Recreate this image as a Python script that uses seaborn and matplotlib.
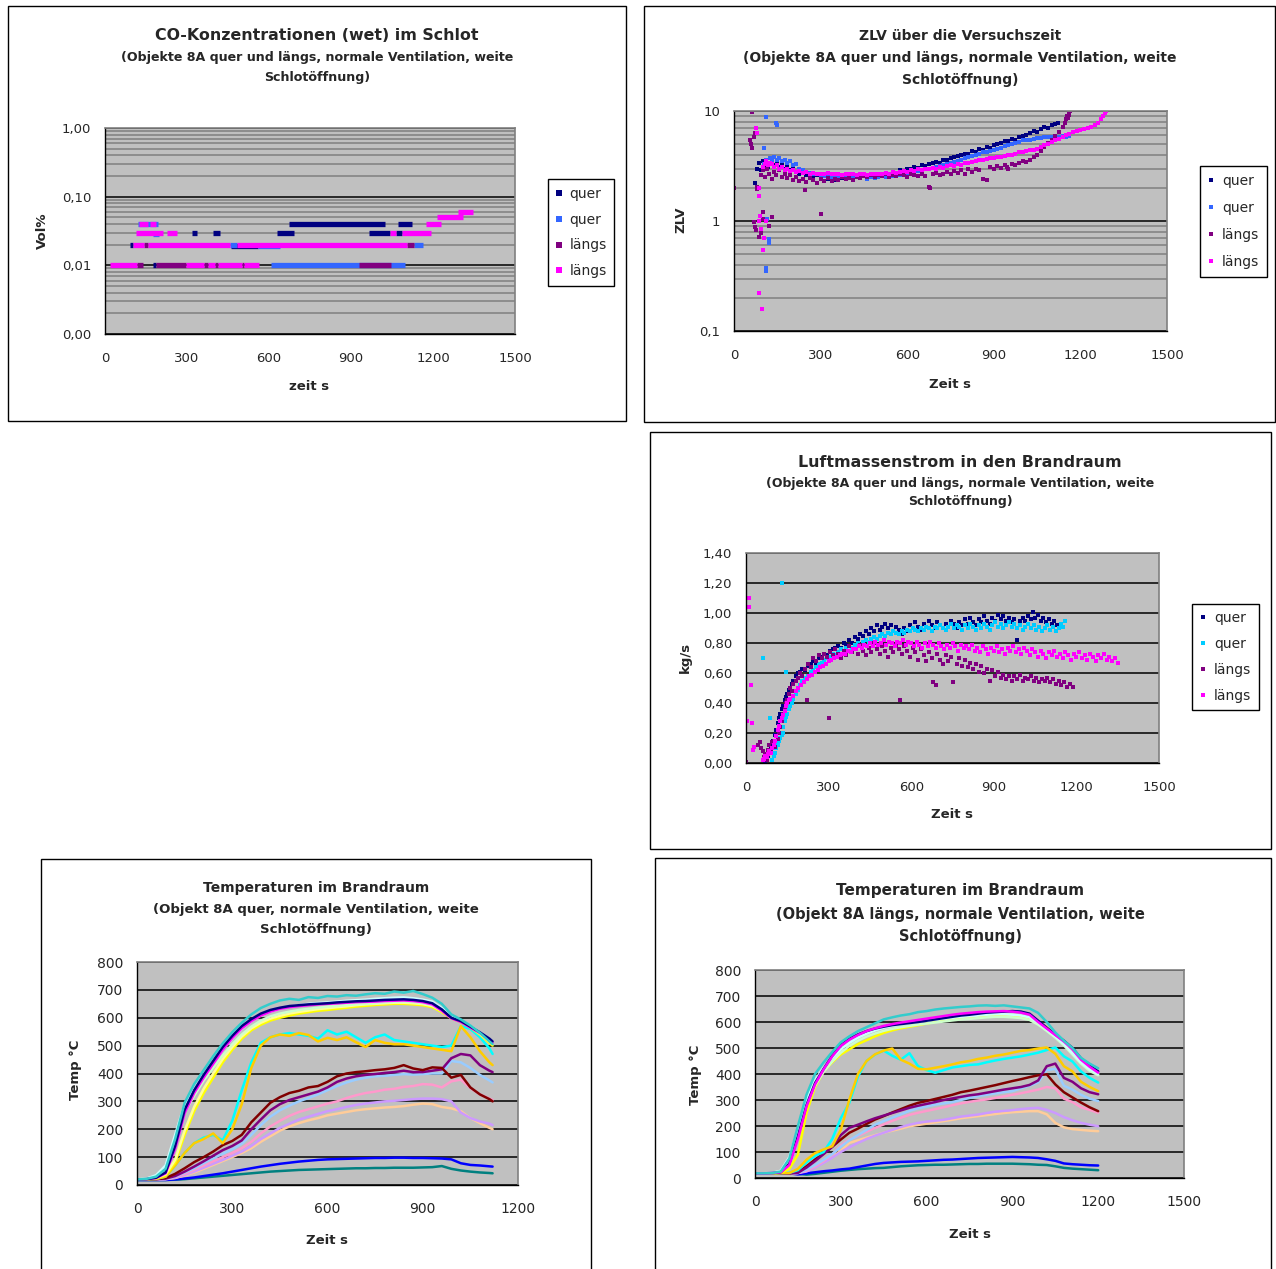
import numpy as np
import pandas as pd
import seaborn as sns
import matplotlib
matplotlib.use("Agg")
import matplotlib.pyplot as plt
from matplotlib.patches import Rectangle
from matplotlib.lines import Line2D
from matplotlib.ticker import LogLocator, NullFormatter

# ---------------------------------------------------------------- colours
NAVY = "#000080"; BLUE2 = "#3366FF"; PURPLE = "#800080"; MAGENTA = "#FF00FF"
CYAN = "#00FFFF"; SKY = "#00CCFF"; YELLOW = "#FFFF00"; DARKRED = "#800000"
TEAL = "#008080"; BLUE = "#0000FF"; LTURQ = "#CCFFFF"; LGREEN = "#CCFFCC"
LYELLOW = "#FFFF99"; PALEBLUE = "#99CCFF"; ROSE = "#FF99CC"; LAVENDER = "#CC99FF"
TAN = "#FFCC99"; GOLD = "#FFCC00"; TURQ = "#33CCCC"

SERIES_LABELS = ["quer", "quer", "längs", "längs"]

# ---------------------------------------------------------------- CO (Vol%), step segments: (start s, end s, value)
CO_QUER1 = [(92, 101, 0.02), (177, 187, 0.01), (461, 559, 0.019), (320, 338, 0.03),
            (395, 422, 0.03), (631, 690, 0.03), (965, 1041, 0.03), (1064, 1088, 0.03),
            (672, 1026, 0.04), (1073, 1122, 0.04)]
CO_QUER2 = [(607, 1096, 0.01), (458, 483, 0.02), (559, 642, 0.019), (1131, 1164, 0.02),
            (177, 196, 0.029), (122, 194, 0.04)]
CO_LAENGS1 = [(116, 138, 0.01), (186, 297, 0.01), (363, 375, 0.01), (403, 412, 0.01),
              (501, 510, 0.01), (929, 1045, 0.01), (141, 159, 0.02), (1104, 1131, 0.02)]
CO_LAENGS2 = [(18, 116, 0.01), (297, 363, 0.01), (375, 403, 0.01), (412, 501, 0.01),
              (510, 562, 0.01), (101, 141, 0.02), (159, 458, 0.02), (483, 1104, 0.02),
              (112, 214, 0.03), (226, 263, 0.03), (1041, 1064, 0.03), (1088, 1191, 0.03),
              (126, 158, 0.04), (166, 186, 0.04), (1173, 1231, 0.04), (1216, 1310, 0.05),
              (1292, 1348, 0.06)]

# ---------------------------------------------------------------- ZLV over time (s, ZLV)
ZLV_QUER1 = [(72, 2.2), (80, 3.0), (88, 3.4), (95, 2.9), (100, 3.5), (106, 3.2), (112, 3.6), (118, 3.1),
             (125, 3.4), (132, 3.7), (140, 3.2), (148, 3.4), (156, 3.1), (165, 3.3), (175, 3.0), (185, 3.2),
             (195, 2.9), (205, 3.0), (215, 2.8), (225, 2.7), (238, 2.85), (250, 2.6), (262, 2.7), (275, 2.5),
             (288, 2.6), (300, 2.45), (312, 2.55), (325, 2.4), (338, 2.5), (350, 2.35), (362, 2.5), (375, 2.45),
             (388, 2.55), (400, 2.5), (412, 2.45), (425, 2.55), (438, 2.5), (450, 2.6), (462, 2.5), (475, 2.6),
             (488, 2.55), (500, 2.65), (512, 2.6), (525, 2.7), (538, 2.65), (550, 2.8), (562, 2.75), (575, 2.9),
             (588, 2.85), (600, 3.0), (612, 2.95), (625, 3.1), (638, 3.05), (650, 3.2), (662, 3.15), (675, 3.3),
             (688, 3.35), (700, 3.45), (712, 3.4), (725, 3.6), (738, 3.55), (750, 3.75), (762, 3.8), (775, 3.9),
             (788, 4.0), (800, 4.1), (812, 4.05), (825, 4.3), (838, 4.25), (850, 4.5), (862, 4.45), (875, 4.7),
             (888, 4.65), (900, 4.9), (912, 5.0), (925, 5.1), (938, 5.3), (950, 5.35), (962, 5.6), (975, 5.5),
             (988, 5.8), (1000, 5.9), (1012, 6.1), (1025, 6.3), (1038, 6.6), (1050, 6.5), (1062, 6.9),
             (1075, 7.1), (1088, 7.0), (1100, 7.4), (1112, 7.6), (1124, 7.7)]
ZLV_QUER2 = [(104, 4.6), (110, 0.37), (112, 0.35), (112, 8.9), (115, 1.05), (120, 0.68), (122, 0.63),
             (145, 7.7), (150, 7.4), (105, 3.3), (110, 3.6), (118, 3.4), (125, 3.7), (132, 3.5), (140, 3.8),
             (148, 3.6), (156, 3.7), (165, 3.5), (175, 3.6), (185, 3.4), (195, 3.5), (205, 3.2), (215, 3.3),
             (225, 3.0), (238, 2.9), (250, 2.8), (262, 2.75), (275, 2.65), (288, 2.7), (300, 2.6), (312, 2.55),
             (325, 2.6), (338, 2.5), (350, 2.55), (362, 2.5), (375, 2.6), (388, 2.5), (400, 2.55), (412, 2.45),
             (425, 2.5), (438, 2.45), (450, 2.55), (462, 2.4), (475, 2.5), (488, 2.45), (500, 2.5), (512, 2.55),
             (525, 2.5), (538, 2.6), (550, 2.55), (562, 2.65), (575, 2.6), (588, 2.7), (600, 2.75), (612, 2.7),
             (625, 2.8), (638, 2.85), (650, 2.9), (662, 2.95), (675, 3.0), (688, 3.05), (700, 3.1), (712, 3.15),
             (725, 3.2), (738, 3.3), (750, 3.35), (762, 3.45), (775, 3.5), (788, 3.6), (800, 3.7), (812, 3.8),
             (825, 3.9), (838, 4.0), (850, 4.05), (862, 4.2), (875, 4.25), (888, 4.35), (900, 4.45), (912, 4.55),
             (925, 4.65), (938, 4.8), (950, 4.9), (962, 5.0), (975, 5.1), (988, 5.2), (1000, 5.4), (1012, 5.45),
             (1025, 5.5), (1038, 5.6), (1050, 5.65), (1062, 5.7), (1075, 5.75), (1088, 5.8), (1100, 5.8),
             (1112, 5.85), (1125, 5.8), (1138, 5.9), (1150, 5.85), (1162, 5.95)]
ZLV_LAENGS1 = [(0, 2.0), (55, 5.5), (58, 5.0), (61, 9.7), (64, 4.6), (68, 5.8), (72, 6.3), (70, 0.98),
               (72, 0.88), (75, 0.82), (78, 2.05), (80, 1.95), (85, 0.72), (92, 0.78), (100, 1.2), (102, 1.05),
               (122, 0.9), (130, 1.08), (247, 1.9), (301, 1.16), (95, 2.6), (100, 2.9), (108, 2.5), (115, 3.0),
               (122, 2.7), (130, 2.4), (138, 2.8), (146, 2.6), (155, 2.9), (165, 2.5), (175, 2.7), (185, 2.45),
               (195, 2.6), (205, 2.35), (215, 2.5), (225, 2.3), (238, 2.4), (250, 2.25), (262, 2.45), (275, 2.35),
               (288, 2.2), (300, 2.4), (312, 2.3), (325, 2.45), (338, 2.3), (350, 2.4), (362, 2.35), (375, 2.5),
               (388, 2.4), (400, 2.45), (412, 2.35), (425, 2.5), (438, 2.45), (450, 2.55), (462, 2.5), (475, 2.6),
               (488, 2.5), (500, 2.6), (512, 2.55), (525, 2.65), (538, 2.5), (550, 2.6), (562, 2.55), (575, 2.7),
               (588, 2.6), (600, 2.5), (612, 2.65), (625, 2.6), (638, 2.55), (650, 2.7), (662, 2.55), (675, 2.05),
               (680, 2.0), (688, 2.7), (700, 2.75), (712, 2.6), (725, 2.7), (738, 2.8), (750, 2.65), (762, 2.85),
               (775, 2.75), (788, 2.9), (800, 2.7), (812, 2.95), (825, 2.8), (838, 3.0), (850, 2.9), (862, 2.4),
               (875, 2.35), (888, 3.1), (900, 3.0), (912, 3.15), (925, 3.05), (938, 3.2), (944, 3.1), (950, 3.0),
               (962, 3.3), (975, 3.2), (988, 3.4), (1000, 3.5), (1012, 3.45), (1025, 3.6), (1038, 3.8),
               (1050, 4.0), (1062, 4.3), (1075, 4.7), (1088, 5.1), (1100, 5.4), (1112, 5.9), (1125, 6.5),
               (1138, 7.2), (1145, 7.8), (1150, 8.4), (1155, 9.0), (1160, 9.5), (1165, 9.9), (1162, 9.2),
               (1158, 8.7)]
ZLV_LAENGS2 = [(75, 7.0), (78, 6.3), (85, 2.0), (86, 1.7), (88, 1.0), (90, 1.1), (95, 0.85), (100, 0.55),
               (87, 0.22), (96, 0.16), (105, 0.7), (110, 1.0), (100, 3.1), (106, 3.3), (112, 3.5), (118, 3.2),
               (125, 3.4), (132, 3.3), (140, 3.1), (148, 3.2), (156, 3.0), (165, 3.1), (175, 2.9), (185, 3.0),
               (195, 2.85), (205, 2.9), (215, 2.8), (225, 2.85), (238, 2.75), (250, 2.8), (262, 2.7), (275, 2.75),
               (288, 2.65), (300, 2.7), (312, 2.65), (325, 2.75), (338, 2.7), (350, 2.65), (362, 2.7), (375, 2.6),
               (388, 2.7), (400, 2.65), (412, 2.7), (425, 2.6), (438, 2.65), (450, 2.7), (462, 2.6), (475, 2.65),
               (488, 2.7), (500, 2.65), (512, 2.7), (525, 2.75), (538, 2.7), (550, 2.8), (562, 2.75), (575, 2.8),
               (588, 2.85), (600, 2.8), (612, 2.9), (625, 2.85), (638, 2.95), (650, 2.9), (662, 3.0), (675, 2.95),
               (688, 3.05), (700, 3.0), (712, 3.1), (725, 3.05), (738, 3.15), (750, 3.2), (762, 3.15), (775, 3.3),
               (788, 3.25), (800, 3.35), (812, 3.4), (825, 3.45), (838, 3.5), (850, 3.55), (862, 3.6), (875, 3.65),
               (888, 3.7), (900, 3.75), (912, 3.8), (925, 3.85), (938, 3.9), (950, 3.95), (962, 4.0), (975, 4.1),
               (988, 4.2), (1000, 4.25), (1012, 4.3), (1025, 4.4), (1038, 4.45), (1050, 4.55), (1062, 4.7),
               (1075, 4.9), (1088, 5.0), (1100, 5.2), (1112, 5.4), (1125, 5.6), (1138, 5.8), (1150, 6.0),
               (1162, 6.2), (1175, 6.4), (1188, 6.6), (1200, 6.7), (1212, 6.9), (1225, 7.0), (1238, 7.2),
               (1250, 7.4), (1262, 7.8), (1272, 8.4), (1280, 9.0), (1286, 9.5), (1290, 9.9)]

# ---------------------------------------------------------------- air mass flow (s, kg/s)
LM_QUER1 = [(69, 0.01), (75, 0.03), (80, 0.05), (85, 0.08), (90, 0.10), (95, 0.12), (99, 0.15), (105, 0.19),
            (110, 0.22), (115, 0.27), (120, 0.30), (125, 0.33), (130, 0.36), (135, 0.38), (140, 0.42), (145, 0.44),
            (150, 0.46), (155, 0.49), (160, 0.50), (166, 0.53), (172, 0.55), (180, 0.58), (188, 0.60), (196, 0.61),
            (205, 0.63), (215, 0.62), (225, 0.65), (235, 0.66), (245, 0.68), (255, 0.67), (265, 0.70), (275, 0.71),
            (285, 0.73), (295, 0.72), (305, 0.75), (315, 0.76), (325, 0.77), (335, 0.78), (345, 0.77), (355, 0.80),
            (365, 0.79), (375, 0.82), (385, 0.80), (395, 0.84), (405, 0.83), (415, 0.86), (425, 0.85), (435, 0.88),
            (445, 0.86), (455, 0.90), (465, 0.88), (475, 0.92), (485, 0.89), (495, 0.91), (505, 0.93), (515, 0.90),
            (525, 0.92), (535, 0.88), (545, 0.91), (555, 0.89), (565, 0.86), (575, 0.90), (585, 0.88), (595, 0.92),
            (605, 0.90), (615, 0.94), (625, 0.91), (635, 0.89), (645, 0.93), (655, 0.91), (665, 0.95), (675, 0.92),
            (685, 0.90), (695, 0.94), (705, 0.92), (715, 0.90), (725, 0.93), (735, 0.91), (745, 0.95), (755, 0.93),
            (765, 0.90), (775, 0.94), (785, 0.92), (795, 0.96), (805, 0.93), (815, 0.97), (825, 0.94), (835, 0.92),
            (845, 0.96), (855, 0.94), (865, 0.98), (875, 0.95), (885, 0.93), (895, 0.97), (905, 0.95), (915, 0.99),
            (925, 0.96), (935, 0.98), (945, 0.95), (955, 0.97), (965, 0.94), (975, 0.96), (985, 0.82), (995, 0.95),
            (1005, 0.97), (1015, 0.95), (1025, 0.98), (1035, 0.96), (1043, 1.01), (1050, 0.97), (1060, 0.99),
            (1070, 0.95), (1080, 0.97), (1090, 0.94), (1100, 0.96), (1110, 0.93), (1120, 0.95), (1130, 0.92)]
LM_QUER2 = [(63, 0.70), (132, 1.20), (145, 0.61), (88, 0.30), (133, 0.20), (95, 0.02), (100, 0.05), (105, 0.07),
            (110, 0.10), (115, 0.12), (120, 0.15), (125, 0.17), (130, 0.19), (135, 0.24), (140, 0.28), (145, 0.31),
            (150, 0.33), (155, 0.36), (160, 0.38), (166, 0.40), (172, 0.43), (180, 0.46), (188, 0.49), (196, 0.52),
            (205, 0.55), (215, 0.57), (225, 0.58), (235, 0.61), (245, 0.62), (255, 0.64), (265, 0.66), (275, 0.67),
            (285, 0.69), (295, 0.70), (305, 0.71), (315, 0.73), (325, 0.72), (335, 0.74), (345, 0.76), (355, 0.75),
            (365, 0.77), (375, 0.78), (385, 0.77), (395, 0.79), (405, 0.80), (415, 0.79), (425, 0.81), (435, 0.82),
            (445, 0.81), (455, 0.83), (465, 0.84), (475, 0.83), (485, 0.85), (495, 0.86), (505, 0.85), (515, 0.87),
            (525, 0.86), (535, 0.88), (545, 0.87), (555, 0.86), (565, 0.88), (575, 0.87), (585, 0.89), (595, 0.88),
            (605, 0.90), (615, 0.89), (625, 0.88), (635, 0.90), (645, 0.89), (655, 0.91), (665, 0.90), (675, 0.88),
            (685, 0.91), (695, 0.90), (705, 0.92), (715, 0.90), (725, 0.89), (735, 0.91), (745, 0.93), (755, 0.90),
            (765, 0.92), (775, 0.91), (785, 0.89), (795, 0.92), (805, 0.90), (815, 0.93), (825, 0.91), (835, 0.89),
            (845, 0.92), (855, 0.90), (865, 0.93), (875, 0.91), (885, 0.89), (895, 0.92), (905, 0.94), (915, 0.91),
            (925, 0.93), (935, 0.90), (945, 0.92), (955, 0.94), (965, 0.91), (975, 0.93), (985, 0.90), (995, 0.92),
            (1005, 0.89), (1015, 0.91), (1025, 0.93), (1035, 0.90), (1045, 0.92), (1055, 0.89), (1065, 0.91),
            (1075, 0.88), (1085, 0.90), (1095, 0.92), (1105, 0.89), (1115, 0.91), (1125, 0.88), (1135, 0.90),
            (1145, 0.93), (1152, 0.91), (1158, 0.95)]
LM_LAENGS1 = [(0, 0.01), (45, 0.12), (50, 0.14), (55, 0.10), (60, 0.08), (65, 0.04), (70, 0.06), (75, 0.02),
              (80, 0.09), (85, 0.12), (90, 0.08), (95, 0.14), (100, 0.15), (105, 0.11), (110, 0.18), (115, 0.16),
              (120, 0.20), (125, 0.24), (130, 0.28), (135, 0.33), (140, 0.36), (145, 0.40), (150, 0.42), (155, 0.46),
              (160, 0.50), (166, 0.48), (172, 0.53), (180, 0.55), (188, 0.57), (196, 0.60), (205, 0.58), (215, 0.63),
              (220, 0.42), (225, 0.66), (235, 0.64), (245, 0.70), (255, 0.68), (265, 0.72), (275, 0.70), (285, 0.73),
              (295, 0.71), (302, 0.30), (305, 0.74), (315, 0.72), (325, 0.76), (335, 0.73), (345, 0.70), (355, 0.75),
              (365, 0.72), (375, 0.78), (385, 0.74), (395, 0.76), (405, 0.73), (415, 0.79), (425, 0.75), (435, 0.72),
              (445, 0.77), (455, 0.74), (465, 0.80), (475, 0.76), (485, 0.73), (495, 0.78), (505, 0.75), (515, 0.71),
              (525, 0.77), (535, 0.74), (545, 0.79), (555, 0.76), (560, 0.42), (565, 0.73), (575, 0.78), (585, 0.75),
              (595, 0.71), (605, 0.77), (615, 0.74), (625, 0.69), (635, 0.76), (645, 0.72), (655, 0.68), (665, 0.74),
              (675, 0.70), (680, 0.54), (690, 0.52), (695, 0.73), (705, 0.69), (715, 0.66), (725, 0.72), (735, 0.68),
              (745, 0.71), (753, 0.54), (765, 0.66), (775, 0.70), (785, 0.65), (795, 0.69), (805, 0.64), (815, 0.67),
              (825, 0.63), (835, 0.66), (845, 0.61), (855, 0.65), (865, 0.60), (875, 0.63), (886, 0.55), (895, 0.62),
              (905, 0.58), (915, 0.61), (925, 0.57), (935, 0.59), (945, 0.56), (955, 0.58), (965, 0.55), (975, 0.58),
              (985, 0.56), (995, 0.59), (1005, 0.55), (1015, 0.57), (1025, 0.56), (1035, 0.58), (1045, 0.55),
              (1055, 0.57), (1065, 0.54), (1075, 0.56), (1085, 0.55), (1095, 0.57), (1105, 0.54), (1115, 0.56),
              (1125, 0.53), (1135, 0.55), (1145, 0.52), (1155, 0.54), (1165, 0.51), (1175, 0.53), (1188, 0.51)]
LM_LAENGS2 = [(5, 0.28), (11, 1.10), (11, 1.04), (17, 0.52), (20, 0.27), (27, 0.09), (28, 0.11), (60, 0.02),
              (65, 0.03), (70, 0.05), (75, 0.04), (80, 0.06), (85, 0.08), (90, 0.07), (95, 0.10), (100, 0.12),
              (105, 0.15), (110, 0.18), (115, 0.22), (120, 0.25), (125, 0.28), (130, 0.30), (135, 0.32), (140, 0.35),
              (145, 0.38), (150, 0.40), (155, 0.42), (160, 0.43), (170, 0.45), (180, 0.48), (190, 0.50), (200, 0.52),
              (210, 0.54), (220, 0.56), (230, 0.58), (240, 0.59), (250, 0.61), (260, 0.62), (270, 0.64), (280, 0.65),
              (290, 0.66), (300, 0.68), (310, 0.69), (320, 0.70), (330, 0.71), (340, 0.72), (350, 0.73), (360, 0.73),
              (370, 0.75), (380, 0.74), (390, 0.76), (400, 0.76), (410, 0.78), (420, 0.77), (430, 0.79), (440, 0.78),
              (450, 0.80), (460, 0.78), (470, 0.81), (480, 0.79), (490, 0.80), (500, 0.82), (510, 0.79), (520, 0.81),
              (530, 0.80), (540, 0.78), (550, 0.81), (560, 0.80), (570, 0.82), (580, 0.79), (590, 0.81), (600, 0.80),
              (610, 0.78), (620, 0.81), (630, 0.79), (640, 0.77), (650, 0.80), (660, 0.78), (670, 0.81), (680, 0.79),
              (690, 0.77), (700, 0.80), (710, 0.78), (720, 0.76), (730, 0.79), (740, 0.77), (750, 0.80), (760, 0.78),
              (770, 0.75), (780, 0.79), (790, 0.77), (800, 0.78), (810, 0.76), (820, 0.79), (830, 0.75), (840, 0.77),
              (850, 0.74), (860, 0.78), (870, 0.76), (880, 0.73), (890, 0.77), (900, 0.75), (910, 0.78), (920, 0.74),
              (930, 0.76), (940, 0.73), (950, 0.77), (960, 0.75), (970, 0.78), (980, 0.74), (990, 0.76), (1000, 0.73),
              (1010, 0.77), (1020, 0.75), (1030, 0.72), (1040, 0.76), (1050, 0.74), (1060, 0.71), (1070, 0.75),
              (1080, 0.73), (1090, 0.70), (1100, 0.74), (1110, 0.72), (1120, 0.75), (1130, 0.71), (1140, 0.73),
              (1150, 0.70), (1160, 0.74), (1170, 0.72), (1180, 0.69), (1190, 0.73), (1200, 0.71), (1210, 0.74),
              (1220, 0.70), (1230, 0.72), (1240, 0.69), (1250, 0.73), (1260, 0.71), (1270, 0.68), (1280, 0.72),
              (1290, 0.70), (1300, 0.73), (1310, 0.69), (1320, 0.71), (1330, 0.68), (1340, 0.70), (1350, 0.67)]

# ---------------------------------------------------------------- temperatures, object 8A quer (°C every 30 s, last at 1120 s)
T_QUER_TIME = list(range(0, 1111, 30)) + [1120]
TQ_TURQ = [20, 22, 30, 58, 165, 295, 362, 412, 462, 508, 548, 582, 612, 635, 650, 662, 668, 664, 674, 671,
           678, 676, 681, 679, 684, 688, 686, 694, 690, 696, 685, 672, 650, 612, 594, 572, 546, 515, 505]
TQ_NAVY = [20, 21, 26, 45, 140, 270, 340, 395, 445, 495, 535, 570, 595, 615, 628, 636, 642, 645, 648, 650,
           652, 655, 657, 659, 660, 662, 664, 665, 666, 664, 660, 652, 630, 600, 588, 568, 548, 525, 515]
TQ_MAGENTA = [20, 21, 25, 42, 130, 258, 330, 385, 435, 485, 527, 562, 588, 608, 622, 632, 638, 642, 645, 648,
              650, 652, 654, 656, 657, 658, 660, 661, 662, 660, 656, 648, 625, 598, 585, 565, 545, 520, 510]
TQ_LTURQ = [20, 23, 35, 70, 180, 290, 345, 395, 440, 485, 525, 560, 588, 608, 622, 632, 640, 645, 650, 653,
            655, 658, 661, 663, 665, 668, 670, 672, 673, 670, 665, 658, 635, 605, 590, 570, 548, 522, 512]
TQ_LGREEN = [20, 22, 30, 55, 150, 260, 320, 375, 420, 465, 505, 540, 568, 590, 605, 615, 622, 628, 632, 636,
             640, 642, 645, 648, 650, 652, 655, 657, 658, 656, 652, 645, 625, 600, 588, 568, 548, 522, 512]
TQ_LYELLOW = [20, 21, 25, 38, 90, 195, 280, 345, 400, 452, 495, 533, 562, 582, 597, 607, 615, 621, 626, 631,
              634, 638, 641, 645, 648, 650, 652, 654, 654, 652, 649, 642, 625, 602, 588, 568, 543, 515, 505]
TQ_YELLOW = [20, 21, 24, 35, 80, 180, 265, 330, 385, 440, 485, 525, 555, 575, 590, 600, 608, 615, 620, 625,
             628, 632, 636, 640, 643, 646, 648, 650, 650, 648, 645, 638, 620, 598, 585, 565, 540, 510, 500]
TQ_CYAN = [20, 21, 22, 30, 70, 115, 150, 170, 180, 160, 230, 340, 440, 510, 530, 540, 545, 540, 535, 525,
           555, 540, 550, 530, 510, 530, 540, 520, 515, 510, 505, 500, 495, 500, 570, 560, 530, 490, 470]
TQ_GOLD = [20, 21, 22, 30, 70, 115, 150, 165, 185, 150, 200, 290, 420, 500, 530, 540, 535, 545, 538, 515,
           528, 520, 530, 512, 495, 520, 510, 505, 505, 500, 495, 490, 485, 480, 570, 530, 480, 440, 430]
TQ_DARKRED = [20, 20, 21, 25, 40, 60, 82, 100, 120, 143, 158, 180, 225, 260, 295, 315, 330, 338, 350, 355,
              370, 390, 400, 405, 408, 412, 415, 420, 430, 418, 412, 422, 420, 385, 395, 350, 325, 308, 300]
TQ_PURPLE = [20, 20, 21, 23, 32, 48, 66, 85, 105, 125, 140, 160, 200, 235, 268, 290, 305, 315, 325, 335,
             350, 370, 382, 390, 395, 398, 402, 405, 410, 405, 405, 410, 415, 455, 470, 465, 430, 410, 405]
TQ_PALEBLUE = [20, 20, 21, 22, 30, 45, 60, 78, 95, 112, 128, 148, 180, 215, 245, 268, 285, 300, 312, 325,
               340, 355, 368, 378, 385, 390, 392, 395, 398, 396, 398, 400, 400, 445, 440, 420, 395, 375, 368]
TQ_ROSE = [20, 20, 21, 22, 28, 40, 55, 70, 85, 100, 115, 132, 155, 185, 210, 230, 248, 262, 272, 282,
           292, 300, 312, 322, 330, 335, 342, 345, 352, 355, 362, 360, 350, 372, 378, 348, 325, 310, 305]
TQ_LAVENDER = [20, 20, 20, 21, 26, 36, 48, 62, 76, 90, 105, 120, 140, 165, 185, 205, 220, 235, 245, 255,
               265, 272, 280, 287, 292, 296, 300, 302, 305, 308, 310, 310, 308, 300, 260, 240, 228, 220, 215]
TQ_TAN = [20, 20, 20, 21, 25, 34, 45, 58, 72, 86, 100, 115, 132, 155, 175, 195, 210, 222, 232, 240,
          250, 256, 262, 268, 272, 275, 278, 280, 283, 288, 292, 290, 280, 275, 265, 240, 222, 205, 200]
TQ_BLUE = [18, 18, 18, 18, 20, 23, 27, 32, 37, 42, 48, 54, 60, 66, 71, 76, 80, 84, 87, 90,
           92, 93, 94, 95, 96, 97, 97, 98, 98, 97, 97, 96, 95, 92, 78, 72, 70, 67, 66]
TQ_TEAL = [18, 18, 18, 18, 19, 21, 24, 27, 30, 33, 36, 39, 42, 45, 48, 50, 52, 54, 55, 56,
           57, 58, 59, 60, 60, 61, 61, 62, 62, 62, 63, 64, 68, 58, 52, 48, 45, 43, 42]

# ---------------------------------------------------------------- temperatures, object 8A längs (°C every 30 s)
T_LAENGS_TIME = list(range(0, 1201, 30))
TL_TURQ = [18, 18, 19, 25, 75, 200, 320, 400, 445, 485, 522, 545, 565, 580, 595, 610, 618, 625, 630, 638,
           642, 648, 652, 655, 658, 660, 663, 664, 662, 664, 660, 656, 652, 635, 600, 560, 528, 500, 462, 440, 422]
TL_NAVY = [18, 18, 19, 22, 55, 160, 280, 365, 420, 470, 510, 535, 552, 565, 575, 582, 588, 592, 596, 600,
           605, 610, 615, 620, 625, 628, 632, 636, 638, 640, 642, 640, 632, 605, 578, 552, 528, 500, 460, 432, 410]
TL_MAGENTA = [18, 18, 19, 22, 50, 150, 275, 360, 418, 468, 508, 532, 550, 565, 576, 585, 592, 598, 603, 608,
              613, 618, 623, 628, 632, 635, 638, 640, 641, 642, 640, 636, 628, 600, 575, 550, 525, 495, 455, 428, 405]
TL_LTURQ = [18, 18, 20, 28, 80, 190, 300, 375, 425, 462, 495, 520, 540, 555, 568, 578, 585, 590, 595, 600,
            604, 608, 612, 616, 620, 622, 625, 628, 630, 630, 628, 625, 618, 598, 572, 545, 515, 480, 445, 418, 400]
TL_LGREEN = [18, 18, 19, 24, 60, 165, 280, 355, 408, 448, 482, 508, 528, 544, 556, 566, 574, 580, 585, 590,
             594, 598, 602, 606, 610, 612, 615, 618, 620, 620, 618, 615, 608, 590, 566, 540, 510, 475, 440, 412, 395]
TL_YELLOW = [18, 18, 18, 20, 35, 90, 250, 350, 410, 445, 475, 495, 515, 530, 545, 558, 568, 576, 582, 588,
             594, 600, 605, 610, 615, 620, 622, 624, 625, 624, 622, 618, 612, 598, 580, 548, 515, 478, 442, 420, 405]
TL_GOLD = [18, 18, 18, 19, 19, 35, 70, 96, 110, 122, 185, 302, 400, 450, 476, 490, 498, 455, 440, 420,
           418, 424, 430, 437, 445, 450, 458, 463, 470, 475, 482, 489, 492, 498, 502, 478, 430, 410, 370, 350, 334]
TL_CYAN = [18, 18, 18, 19, 20, 30, 60, 85, 100, 150, 230, 290, 390, 450, 475, 490, 470, 455, 480, 430,
           415, 405, 415, 425, 430, 435, 437, 445, 452, 458, 463, 468, 475, 482, 492, 502, 468, 448, 410, 385, 367]
TL_DARKRED = [18, 18, 18, 18, 18, 22, 45, 71, 95, 120, 148, 174, 190, 208, 225, 238, 252, 265, 278, 289,
              296, 304, 312, 320, 330, 336, 343, 350, 357, 365, 373, 380, 388, 395, 399, 360, 330, 310, 290, 272, 257]
TL_PURPLE = [18, 18, 18, 18, 18, 20, 40, 65, 92, 120, 165, 193, 205, 218, 230, 240, 250, 260, 270, 278,
             285, 292, 300, 306, 312, 318, 322, 328, 334, 340, 345, 350, 358, 375, 430, 440, 385, 370, 345, 330, 322]
TL_PALEBLUE = [18, 18, 18, 18, 18, 20, 32, 50, 70, 92, 120, 145, 165, 185, 205, 219, 232, 245, 258, 268,
               275, 282, 287, 292, 300, 308, 315, 320, 325, 330, 334, 345, 355, 368, 415, 420, 355, 340, 320, 305, 296]
TL_ROSE = [18, 18, 18, 18, 18, 19, 28, 45, 65, 90, 125, 148, 162, 178, 193, 206, 220, 232, 243, 251,
           258, 265, 272, 280, 287, 293, 298, 302, 308, 314, 320, 326, 333, 340, 350, 345, 305, 292, 272, 262, 251]
TL_LAVENDER = [18, 18, 18, 18, 18, 19, 25, 40, 58, 78, 100, 118, 135, 150, 163, 174, 185, 196, 205, 212,
               217, 220, 224, 230, 236, 240, 244, 250, 255, 258, 261, 265, 268, 270, 262, 250, 234, 222, 212, 205, 199]
TL_TAN = [18, 18, 18, 18, 18, 20, 28, 42, 60, 80, 105, 135, 145, 155, 165, 174, 182, 190, 199, 204,
          209, 214, 219, 224, 230, 234, 238, 242, 246, 250, 253, 255, 257, 257, 245, 212, 195, 188, 185, 182, 180]
TL_BLUE = [18, 18, 18, 18, 18, 14, 18, 22, 26, 29, 33, 36, 42, 48, 54, 58, 60, 62, 63, 64,
           66, 68, 70, 71, 73, 75, 77, 78, 79, 80, 81, 80, 79, 77, 72, 66, 56, 53, 51, 49, 48]
TL_TEAL = [18, 18, 18, 18, 18, 16, 13, 16, 20, 24, 28, 31, 34, 36, 38, 39, 42, 45, 47, 49,
           50, 51, 51, 52, 53, 54, 54, 55, 55, 55, 55, 54, 53, 51, 50, 45, 39, 36, 34, 32, 30]

# ---------------------------------------------------------------- figure helpers
W, H = 1276, 1269
sns.set_style("white")
plt.rcParams["font.family"] = ["DejaVu Sans"]
fig = plt.figure(figsize=(W / 100, H / 100), dpi=100)
fig.patch.set_facecolor("white")


def frac_rect(x0, y0, x1, y1):
    return [x0 / W, 1 - y1 / H, (x1 - x0) / W, (y1 - y0) / H]


def chart_box(x0, y0, x1, y1):
    fig.add_artist(Rectangle((x0 / W, 1 - y1 / H), (x1 - x0) / W, (y1 - y0) / H,
                             transform=fig.transFigure, fill=False, edgecolor="black", lw=1.0))


def ftext(x, y, s, **kw):
    fig.text(x / W, 1 - y / H, s, ha=kw.pop("ha", "center"), va=kw.pop("va", "center"), **kw)


def style_axes(ax, labelsize=9.5, xpad=7):
    ax.set_facecolor("#C0C0C0")
    for side in ("left", "bottom"):
        ax.spines[side].set_color("black"); ax.spines[side].set_linewidth(1.0)
    for side in ("top", "right"):
        ax.spines[side].set_color("#808080"); ax.spines[side].set_linewidth(1.2)
    ax.tick_params(axis="both", which="major", direction="out", length=5, width=1,
                   color="black", labelsize=labelsize, pad=5)
    ax.tick_params(axis="x", which="major", pad=xpad)
    ax.set_axisbelow(True)
    ax.set_xlabel(""); ax.set_ylabel("")


def lin_grid(ax):
    ax.yaxis.grid(True, which="major", color="black", lw=1.1)
    ax.xaxis.grid(False)


def log_grid(ax):
    ax.yaxis.set_minor_locator(LogLocator(base=10, subs=np.arange(2, 10)))
    ax.yaxis.set_minor_formatter(NullFormatter())
    ax.tick_params(axis="y", which="minor", length=0)
    ax.yaxis.grid(True, which="major", color="black", lw=1.1)
    ax.yaxis.grid(True, which="minor", color="#808080", lw=1.1)
    ax.xaxis.grid(False)


def legend_at(ax, colors, cx, cy, msize, spacing):
    handles = [Line2D([], [], marker="s", ls="none", color=c, markersize=msize, markeredgewidth=0) for c in colors]
    leg = ax.legend(handles, SERIES_LABELS, loc="center", bbox_to_anchor=(cx / W, 1 - cy / H),
                    bbox_transform=fig.transFigure, frameon=True, fancybox=False, edgecolor="black",
                    framealpha=1, fontsize=10, handlelength=0.5, handletextpad=0.5,
                    labelspacing=spacing, borderpad=0.55, borderaxespad=0)
    leg.get_frame().set_linewidth(1.0)
    leg.get_frame().set_facecolor("white")


def scatter_pairs(ax, pairs, color, size=6):
    df = pd.DataFrame(pairs, columns=["t", "v"])
    sns.scatterplot(data=df, x="t", y="v", ax=ax, color=color, marker="s", s=size,
                    linewidth=0, legend=False)


def temp_lines(ax, times, series):
    for vals, col in series:
        df = pd.DataFrame({"t": times, "T": vals})
        sns.lineplot(data=df, x="t", y="T", ax=ax, color=col, lw=1.8, legend=False)


# ---------------------------------------------------------------- chart 1: CO
chart_box(8, 6, 626, 421)
ax1 = fig.add_axes(frac_rect(105, 128, 515, 334))
for segs, col in [(CO_QUER1, NAVY), (CO_QUER2, BLUE2), (CO_LAENGS1, PURPLE), (CO_LAENGS2, MAGENTA)]:
    starts, ends, vals = zip(*segs)
    ax1.hlines(vals, starts, ends, colors=col, lw=3.8, capstyle="butt", zorder=3)
ax1.set_yscale("log")
ax1.set_ylim(0.001, 1)
ax1.set_xlim(0, 1500)
ax1.set_yticks([0.001, 0.01, 0.1, 1])
ax1.set_yticklabels(["0,00", "0,01", "0,10", "1,00"])
ax1.set_xticks(range(0, 1501, 300))
style_axes(ax1, xpad=8)
log_grid(ax1)
legend_at(ax1, [NAVY, BLUE2, PURPLE, MAGENTA], 581, 232.5, 4, 0.85)
ftext(317, 36, "CO-Konzentrationen (wet) im Schlot", fontsize=11.4, fontweight="bold")
ftext(317, 57, "(Objekte 8A quer und längs, normale Ventilation, weite", fontsize=9.1, fontweight="bold")
ftext(317, 78, "Schlotöffnung)", fontsize=9.1, fontweight="bold")
ftext(42, 231, "Vol%", fontsize=9.5, fontweight="bold", rotation=90)
ftext(309, 387, "zeit s", fontsize=9.5, fontweight="bold")

# ---------------------------------------------------------------- chart 2: ZLV
chart_box(644, 6, 1275, 422)
ax2 = fig.add_axes(frac_rect(734, 111, 1167, 331))
for pairs, col in [(ZLV_QUER1, NAVY), (ZLV_QUER2, BLUE2), (ZLV_LAENGS1, PURPLE), (ZLV_LAENGS2, MAGENTA)]:
    scatter_pairs(ax2, pairs, col)
ax2.set_yscale("log")
ax2.set_ylim(0.1, 10)
ax2.set_xlim(0, 1500)
ax2.set_yticks([0.1, 1, 10])
ax2.set_yticklabels(["0,1", "1", "10"])
ax2.set_xticks(range(0, 1501, 300))
style_axes(ax2, xpad=8)
log_grid(ax2)
legend_at(ax2, [NAVY, BLUE2, PURPLE, MAGENTA], 1233.5, 221.5, 2.2, 0.95)
ftext(960, 36, "ZLV über die Versuchszeit", fontsize=10, fontweight="bold")
ftext(960, 58, "(Objekte 8A quer und längs, normale Ventilation, weite", fontsize=10, fontweight="bold")
ftext(960, 80, "Schlotöffnung)", fontsize=10, fontweight="bold")
ftext(681, 220, "ZLV", fontsize=9.5, fontweight="bold", rotation=90)
ftext(950, 384, "Zeit s", fontsize=9.5, fontweight="bold")

# ---------------------------------------------------------------- chart 3: air mass flow
chart_box(650, 432, 1271, 849)
ax3 = fig.add_axes(frac_rect(746, 553, 1159, 763))
for pairs, col in [(LM_QUER1, NAVY), (LM_QUER2, SKY), (LM_LAENGS1, PURPLE), (LM_LAENGS2, MAGENTA)]:
    scatter_pairs(ax3, pairs, col)
ax3.set_ylim(0, 1.4)
ax3.set_xlim(0, 1500)
ax3.set_yticks(np.arange(0, 1.41, 0.2))
ax3.set_yticklabels(["0,00", "0,20", "0,40", "0,60", "0,80", "1,00", "1,20", "1,40"])
ax3.set_xticks(range(0, 1501, 300))
style_axes(ax3, xpad=8)
lin_grid(ax3)
legend_at(ax3, [NAVY, SKY, PURPLE, MAGENTA], 1225.5, 657, 2.2, 0.85)
ftext(960, 462, "Luftmassenstrom in den Brandraum", fontsize=11.4, fontweight="bold")
ftext(960, 483, "(Objekte 8A quer und längs, normale Ventilation, weite", fontsize=9.0, fontweight="bold")
ftext(960, 502, "Schlotöffnung)", fontsize=9.0, fontweight="bold")
ftext(685, 657, "kg/s", fontsize=9.5, fontweight="bold", rotation=90)
ftext(952, 815, "Zeit s", fontsize=9.5, fontweight="bold")

# ---------------------------------------------------------------- chart 4: temperatures quer
chart_box(41, 859, 591, 1275)
ax4 = fig.add_axes(frac_rect(137, 962, 518, 1185))
temp_lines(ax4, T_QUER_TIME, [
    (TQ_TEAL, TEAL), (TQ_BLUE, BLUE), (TQ_TAN, TAN), (TQ_LAVENDER, LAVENDER), (TQ_ROSE, ROSE),
    (TQ_PALEBLUE, PALEBLUE), (TQ_PURPLE, PURPLE), (TQ_DARKRED, DARKRED), (TQ_CYAN, CYAN), (TQ_GOLD, GOLD),
    (TQ_YELLOW, YELLOW), (TQ_LYELLOW, LYELLOW), (TQ_LGREEN, LGREEN), (TQ_LTURQ, LTURQ),
    (TQ_MAGENTA, MAGENTA), (TQ_NAVY, NAVY), (TQ_TURQ, TURQ)])
ax4.set_ylim(0, 800)
ax4.set_xlim(0, 1200)
ax4.set_yticks(range(0, 801, 100))
ax4.set_xticks(range(0, 1201, 300))
style_axes(ax4, labelsize=10)
lin_grid(ax4)
ftext(316, 888, "Temperaturen im Brandraum", fontsize=10, fontweight="bold")
ftext(316, 909, "(Objekt 8A quer, normale Ventilation, weite", fontsize=9.5, fontweight="bold")
ftext(316, 930, "Schlotöffnung)", fontsize=9.5, fontweight="bold")
ftext(76, 1070, "Temp °C", fontsize=9.5, fontweight="bold", rotation=90)
ftext(327, 1240, "Zeit s", fontsize=9.5, fontweight="bold")

# ---------------------------------------------------------------- chart 5: temperatures längs
chart_box(655, 858, 1271, 1275)
ax5 = fig.add_axes(frac_rect(755, 970, 1184, 1178))
temp_lines(ax5, T_LAENGS_TIME, [
    (TL_TEAL, TEAL), (TL_BLUE, BLUE), (TL_TAN, TAN), (TL_LAVENDER, LAVENDER), (TL_ROSE, ROSE),
    (TL_PALEBLUE, PALEBLUE), (TL_DARKRED, DARKRED), (TL_PURPLE, PURPLE), (TL_CYAN, CYAN), (TL_GOLD, GOLD),
    (TL_YELLOW, YELLOW), (TL_LGREEN, LGREEN), (TL_LTURQ, LTURQ), (TL_NAVY, NAVY),
    (TL_MAGENTA, MAGENTA), (TL_TURQ, TURQ)])
ax5.set_ylim(0, 800)
ax5.set_xlim(0, 1500)
ax5.set_yticks(range(0, 801, 100))
ax5.set_xticks(range(0, 1501, 300))
style_axes(ax5, labelsize=10)
lin_grid(ax5)
ftext(960, 890, "Temperaturen im Brandraum", fontsize=11, fontweight="bold")
ftext(960, 914, "(Objekt 8A längs, normale Ventilation, weite", fontsize=10.5, fontweight="bold")
ftext(960, 937, "Schlotöffnung)", fontsize=10.5, fontweight="bold")
ftext(695, 1075, "Temp °C", fontsize=9.5, fontweight="bold", rotation=90)
ftext(970, 1235, "Zeit s", fontsize=9.5, fontweight="bold")

fig.savefig("out.png", dpi=100, facecolor="white")
